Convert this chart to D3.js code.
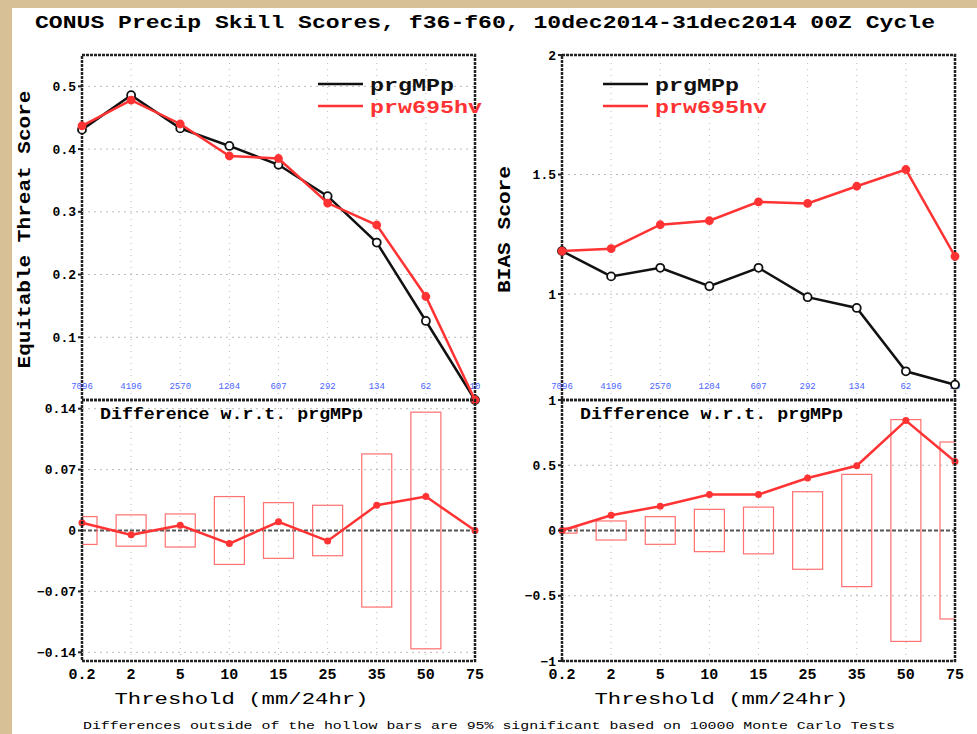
<!DOCTYPE html>
<html>
<head>
<meta charset="utf-8">
<script src="https://cdn.jsdelivr.net/npm/d3@7"></script>
<style>
body { margin: 0; background: #d8c096; }
svg { display: block; }
text { font-family: "Liberation Mono", "DejaVu Sans Mono", monospace; font-weight: bold; }
</style>
</head>
<body>
<svg id="chart" width="977" height="734"></svg>
<script>
// thresholds (mm/24hr) and observation counts
var thresholds = ['0.2', '2', '5', '10', '15', '25', '35', '50', '75'];
var counts = ['7096', '4196', '2570', '1204', '607', '292', '134', '62', '10'];

// Equitable threat score
var etsCtl = [0.431, 0.486, 0.433, 0.405, 0.375, 0.325, 0.251, 0.126, 0.0];
var etsExp = [0.437, 0.478, 0.440, 0.389, 0.385, 0.314, 0.279, 0.165, 0.0];
var etsDiff = [0.009, -0.005, 0.006, -0.015, 0.010, -0.012, 0.029, 0.039, 0.0];
var etsBar = [0.016, 0.018, 0.019, 0.039, 0.032, 0.029, 0.088, 0.136, 0];

// Bias score
var biasCtl = [1.180, 1.074, 1.110, 1.033, 1.110, 0.987, 0.942, 0.677, 0.621];
var biasExp = [1.180, 1.190, 1.290, 1.307, 1.386, 1.379, 1.451, 1.521, 1.158];
var biasDiff = [0.0, 0.117, 0.186, 0.275, 0.275, 0.402, 0.496, 0.842, 0.529];
var biasBar = [0.02, 0.073, 0.106, 0.162, 0.179, 0.297, 0.43, 0.85, 0.678];

var names = ['prgMPp', 'prw695hv'];
var colors = ['#111111', '#ff3333'];

var svg = d3.select('#chart');
svg.append('rect').attr('x', 12).attr('y', 8).attr('width', 965).attr('height', 726).attr('fill', '#ffffff');

svg.append('text')
    .attr('x', 485).attr('y', 28)
    .attr('text-anchor', 'middle')
    .attr('textLength', 900).attr('lengthAdjust', 'spacingAndGlyphs')
    .style('font-size', '18px')
    .text('CONUS Precip Skill Scores, f36-f60, 10dec2014-31dec2014 00Z Cycle');

svg.append('text')
    .attr('x', 489).attr('y', 729)
    .attr('text-anchor', 'middle')
    .attr('textLength', 812).attr('lengthAdjust', 'spacingAndGlyphs')
    .style('font-size', '11px')
    .style('font-weight', 'normal')
    .text('Differences outside of the hollow bars are 95% significant based on 10000 Monte Carlo Tests');

function frame(g, x0, x1, y0, y1) {
    g.append('rect')
        .attr('x', x0).attr('y', y0).attr('width', x1 - x0).attr('height', y1 - y0)
        .attr('fill', 'none').attr('stroke', '#222').attr('stroke-width', 2.5)
        .attr('stroke-dasharray', '3,1');
}

function grid(g, x, y, ticks, x0, x1) {
    g.append('g').selectAll('line').data(thresholds.slice(1, -1)).join('line')
        .attr('x1', d => x(d)).attr('x2', d => x(d))
        .attr('y1', y.range()[0]).attr('y2', y.range()[1])
        .attr('stroke', '#bbb').attr('stroke-width', 1).attr('stroke-dasharray', '1,5');
    g.append('g').selectAll('line').data(ticks).join('line')
        .attr('x1', x0).attr('x2', x1)
        .attr('y1', d => y(d)).attr('y2', d => y(d))
        .attr('stroke', '#bbb').attr('stroke-width', 1).attr('stroke-dasharray', '2,4');
}

function yLabels(g, y, ticks, x0, fmt) {
    var t = g.append('g').selectAll('g').data(ticks).join('g')
        .attr('transform', d => `translate(${x0},${y(d)})`);
    t.append('line').attr('x1', -4).attr('x2', 0).attr('stroke', '#222').attr('stroke-width', 2);
    t.append('text').attr('x', -6).attr('dy', '0.35em')
        .attr('text-anchor', 'end').style('font-size', '13px')
        .text(fmt);
}

function drawPanel(px0, px1, top, ctl, exp, yDom, yTicks, yFmt, ylab, ylabLen, legX, diff, bar, dDom, dTicks, dFmt) {
    var g = svg.append('g');
    var x = d3.scalePoint().domain(thresholds).range([px0, px1]);
    var y = d3.scaleLinear().domain(yDom).range([400, top]);
    var yd = d3.scaleLinear().domain(dDom).range([661, 400]);
    var clipId = 'clip' + px0;
    svg.append('clipPath').attr('id', clipId)
        .append('rect').attr('x', px0).attr('y', 400).attr('width', px1 - px0).attr('height', 261);

    // top panel
    grid(g, x, y, yTicks, px0, px1);
    frame(g, px0, px1, top, 400);
    yLabels(g, y, yTicks, px0, yFmt);
    g.append('text')
        .attr('transform', `translate(${px0 - 52},${(top + 400) / 2 + 2}) rotate(-90)`)
        .attr('text-anchor', 'middle').style('font-size', '19px')
        .attr('textLength', ylabLen).attr('lengthAdjust', 'spacingAndGlyphs')
        .text(ylab);

    g.append('g').selectAll('text').data(thresholds).join('text')
        .attr('x', d => x(d)).attr('y', 389)
        .attr('text-anchor', 'middle').attr('fill', '#4a64ff')
        .style('font-size', '9px').style('font-weight', 'normal')
        .text((d, i) => counts[i]);

    var line = d3.line().x((d, i) => x(thresholds[i])).y(d => y(d));
    [ctl, exp].forEach(function (s, k) {
        g.append('path').datum(s)
            .attr('fill', 'none').attr('stroke', colors[k]).attr('stroke-width', 2.5)
            .attr('d', line);
        g.append('g').selectAll('circle').data(s).join('circle')
            .attr('cx', (d, i) => x(thresholds[i])).attr('cy', d => y(d))
            .attr('r', k == 0 ? 4 : 3.5)
            .attr('fill', k == 0 ? '#fff' : colors[k])
            .attr('stroke', colors[k]).attr('stroke-width', 1.8);
    });

    // legend
    var leg = g.append('g').selectAll('g').data(names).join('g')
        .attr('transform', (d, i) => `translate(${legX},${84 + i * 22})`);
    leg.append('line').attr('x1', 0).attr('x2', 45)
        .attr('stroke', (d, i) => colors[i]).attr('stroke-width', 2.5);
    leg.append('text').attr('x', 52).attr('dy', '0.35em')
        .attr('fill', (d, i) => colors[i]).style('font-size', '19px')
        .attr('textLength', d => d.length * 14).attr('lengthAdjust', 'spacingAndGlyphs')
        .text(d => d);

    // difference panel
    grid(g, x, yd, dTicks, px0, px1);
    g.append('line').attr('x1', px0).attr('x2', px1).attr('y1', yd(0)).attr('y2', yd(0))
        .attr('stroke', '#555').attr('stroke-width', 2).attr('stroke-dasharray', '4,2');
    g.append('g').attr('clip-path', `url(#${clipId})`)
        .selectAll('rect').data(bar).join('rect')
        .attr('x', (d, i) => x(thresholds[i]) - 15).attr('width', 30)
        .attr('y', d => yd(d)).attr('height', d => yd(-d) - yd(d))
        .attr('fill', 'none').attr('stroke', '#ff7070').attr('stroke-width', 1.2);
    var dline = d3.line().x((d, i) => x(thresholds[i])).y(d => yd(d));
    g.append('path').datum(diff)
        .attr('fill', 'none').attr('stroke', '#ff3333').attr('stroke-width', 2.5)
        .attr('d', dline);
    g.append('g').selectAll('circle').data(diff).join('circle')
        .attr('cx', (d, i) => x(thresholds[i])).attr('cy', d => yd(d)).attr('r', 3.5)
        .attr('fill', '#ff3333');
    frame(g, px0, px1, 400, 661);
    yLabels(g, yd, dTicks, px0, dFmt);
    g.append('text').attr('x', px0 + 18).attr('y', 419)
        .style('font-size', '17px')
        .attr('textLength', 263).attr('lengthAdjust', 'spacingAndGlyphs')
        .text('Difference w.r.t. ' + names[0]);

    g.append('g').selectAll('text').data(thresholds).join('text')
        .attr('x', d => x(d)).attr('y', 679)
        .attr('text-anchor', 'middle').style('font-size', '15px')
        .text(d => d);
    g.append('text').attr('x', (px0 + px1) / 2 - 37).attr('y', 704)
        .attr('text-anchor', 'middle').style('font-size', '17px').style('font-weight', 'normal')
        .attr('textLength', 254).attr('lengthAdjust', 'spacingAndGlyphs')
        .text('Threshold (mm/24hr)');
}

drawPanel(82, 475, 55, etsCtl, etsExp, [0, 0.55], [0.1, 0.2, 0.3, 0.4, 0.5], d3.format('.1f'),
    'Equitable Threat Score', 278, 318, etsDiff, etsBar, [-0.15, 0.15], [-0.14, -0.07, 0, 0.07, 0.14],
    d => d == 0 ? '0' : d3.format('.2f')(d));

drawPanel(562, 955, 55, biasCtl, biasExp, [0.557, 2], [1, 1.5, 2], d => d3.format('~g')(d),
    'BIAS Score', 127, 603, biasDiff, biasBar, [-1, 1], [-1, -0.5, 0, 0.5, 1], d => d3.format('~g')(d));
</script>
</body>
</html>
